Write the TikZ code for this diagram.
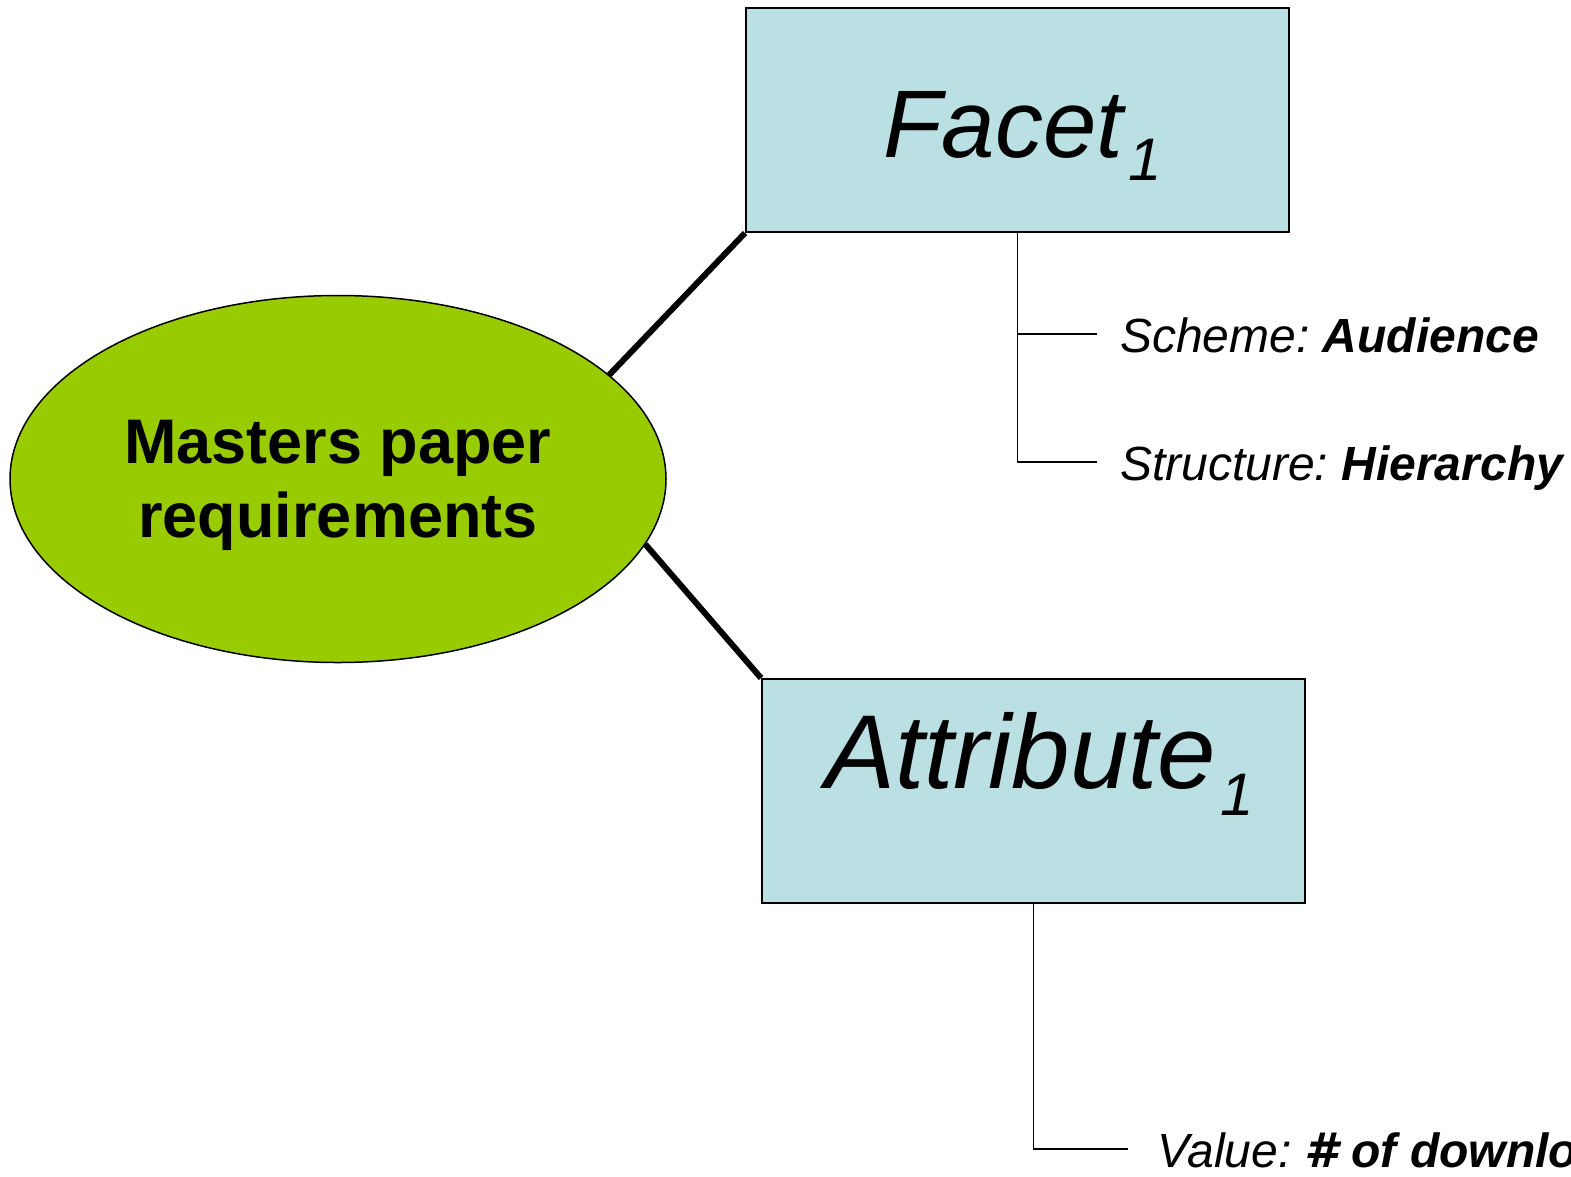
\documentclass[tikz,border=0pt]{standalone}
\usepackage{fontspec}
\setmainfont{Liberation Sans}
\newfontfamily\hashfont{DejaVu Sans}
\usetikzlibrary{shapes.geometric}

\definecolor{facetblue}{RGB}{187,224,227}
\definecolor{reqgreen}{RGB}{153,204,0}
\newcommand\lowone[2]{\hspace{#2pt}\raisebox{-#1pt}{\fontsize{60}{60}\selectfont 1}}

\begin{document}
\begin{tikzpicture}[x=1pt, y=-1pt,
        facetbox/.style={draw, line width=2pt, fill=facetblue,
            minimum width=543pt, minimum height=224pt, inner sep=0pt},
        spoke/.style={line width=6pt},
        branch/.style={line width=1.8pt},
        leaf/.style={anchor=base west, inner sep=0pt,
            font=\fontsize{48}{57}\selectfont\frenchspacing}]
        \useasboundingbox (0, 0) rectangle (1571, 1176);
        \clip (0, 0) rectangle (1571, 1176);

        % the requirements
        \node[ellipse, draw, line width=1.5pt, fill=reqgreen,
            minimum width=656pt, minimum height=367pt, inner sep=0pt,
            align=center, text depth=0pt,
            font=\fontsize{63}{74}\selectfont\bfseries]
            (req) at (338, 479) {Masters paper\\requirements};

        % Facet and Attribute
        \node[facetbox, text height=74pt, text depth=0pt,
            font=\fontsize{96}{96}\selectfont\itshape]
            (facet) at (1017.5, 120) {\hspace{10pt}Facet\lowone{23}{5}};
        \node[facetbox, text height=80pt, text depth=86pt,
            font=\fontsize{105}{105}\selectfont\itshape]
            (attr) at (1033.5, 791) {\hspace{12pt}Attribute\lowone{27}{4}};

        \draw[spoke] (facet.south west) -- (req.21);
        \draw[spoke] (attr.north west) -- (req.-12);

        % facet branches
        \coordinate (schemeend) at (1097, 334);
        \coordinate (structend) at (1097, 462);
        \draw[branch] (facet.south) |- (structend);
        \draw[branch] (facet.south |- schemeend) -- (schemeend);
        \node[leaf] (scheme) at (1120, 352)
            {\itshape Scheme: \bfseries Audience};
        \node[leaf] (structure) at (1120, 480)
            {\itshape Structure: \bfseries Hierarchy};

        % attribute branch
        \coordinate (valueend) at (1128, 1149);
        \draw[branch] (attr.south) |- (valueend);
        \node[leaf] (value) at (1157, 1167)
            {\itshape Value: {\bfseries{\hashfont\bfseries\itshape\#} of downloads}};
    \end{tikzpicture}
\end{document}
